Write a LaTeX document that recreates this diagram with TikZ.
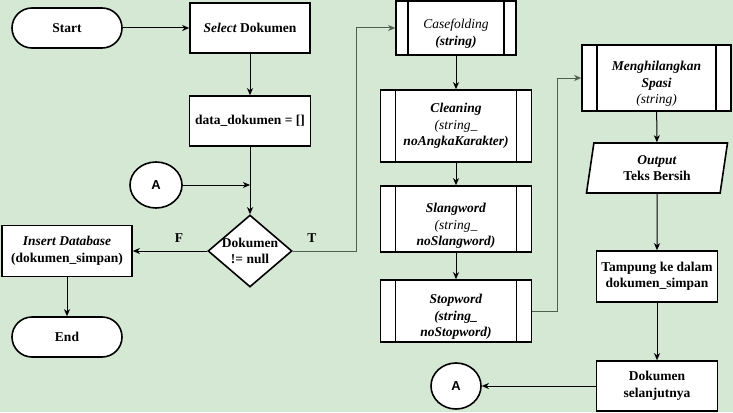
\documentclass[tikz,border=0pt]{standalone}
\usepackage{fontspec}
\setmainfont{Liberation Serif}
\newfontfamily\labelsans{Liberation Sans}
\usetikzlibrary{shapes.geometric,arrows.meta,calc}

\definecolor{bggreen}{RGB}{213,232,212}
\definecolor{linegray}{RGB}{80,96,80}

% pushes a text block a little down inside its box
\newcommand{\dropline}{\rule{0pt}{21pt}}

\tikzset{
	base/.style={draw=black, line width=1.6pt, fill=white, align=center, font=\fontsize{13.5}{16.5}\selectfont\bfseries, inner sep=1pt},
	terminal/.style={base, rounded corners=20pt, minimum width=110pt, minimum height=40pt},
	procbox/.style={base, rectangle, minimum height=50pt},
	predef/.style={base, rectangle, path picture={
		\draw[line width=1.6pt] ([xshift=#1]path picture bounding box.north west) -- ([xshift=#1]path picture bounding box.south west);
		\draw[line width=1.6pt] ([xshift=-#1]path picture bounding box.north east) -- ([xshift=-#1]path picture bounding box.south east);}},
	decision/.style={base, diamond, minimum width=84pt, minimum height=72pt, inner sep=0pt},
	connector/.style={base, ellipse, font=\fontsize{13}{15}\selectfont\labelsans\bfseries},
	iobox/.style={base, trapezium, trapezium left angle=75, trapezium right angle=105, trapezium stretches body, minimum width=141pt, minimum height=50pt},
	flow/.style={line width=1pt, -{Stealth[length=7pt,width=6pt,inset=2pt]}},
	branch/.style={font=\fontsize{13.5}{16}\selectfont\bfseries, text=black},
}

\begin{document}
\begin{tikzpicture}[x=1pt, y=-1pt]
	\fill[bggreen] (0,0) rectangle (733,412);
	\useasboundingbox (0,0) rectangle (733,412);

	% left column
	\node[terminal] (start) at (67,28) {Start};
	\node[procbox, minimum width=120pt] (select) at (250,28) {\textit{Select} Dokumen};
	\node[procbox, minimum width=121pt] (data) at (250,121) {data\_dokumen = []};
	\node[connector, minimum width=52pt, minimum height=46pt] (connA) at (156,185) {A};
	\node[decision] (cek) at (250,251) {\makebox[0pt]{Dokumen}\\\makebox[0pt]{!= null}};
	\node[procbox, minimum width=130pt, minimum height=51pt] (insert) at (67,251) {\textit{Insert Database}\\(dokumen\_simpan)};
	\node[terminal] (end) at (67,337) {End};

	\coordinate (joinA) at (data.south |- connA);
	\coordinate (tbend) at (356,251);

	\draw[flow] (start) -- (select);
	\draw[flow] (select) -- (data);
	\draw[flow] (data) -- (cek);
	\draw[flow] (connA) -- (joinA);
	\draw[flow] (cek) -- node[pos=0.38, above=5pt, branch] {F} (insert);
	\draw[flow] (insert) -- (end);

	% preprocessing column
	\node[predef=12pt, minimum width=120pt, minimum height=54pt] (casefold) at (456,28) {\dropline\mdseries\textit{Casefolding}\\\textit{(string)}};
	\node[predef=15pt, minimum width=151pt, minimum height=72pt] (cleaning) at (456,126) {\textit{Cleaning}\\\mdseries\textit{(string\_}\\\textit{noAngkaKarakter)}};
	\node[predef=15pt, minimum width=151pt, minimum height=66pt] (slang) at (456,219) {\rule{0pt}{23pt}\textit{Slangword}\\\mdseries\textit{(string\_}\\\textit{noSlangword)}};
	\node[predef=15pt, minimum width=151pt, minimum height=62pt] (stop) at (456,311) {\dropline\textit{Stopword}\\\textit{(string\_}\\\textit{noStopword)}};

	\draw[flow, linegray] (cek.east) -- node[pos=0.3, above=5pt, branch] {T} (tbend) |- (casefold.west);
	\draw[flow] (casefold) -- (cleaning);
	\draw[flow] (cleaning) -- (slang);
	\draw[flow] (slang) -- (stop);

	% right column
	\node[predef=15pt, minimum width=149pt, minimum height=66pt] (spasi) at (656.5,78) {\dropline\textit{Menghilangkan}\\\textit{Spasi}\\\mdseries\textit{(string)}};
	\node[iobox] (output) at (657,168) {\textit{Output}\\Teks Bersih};
	\node[procbox, minimum width=121pt, minimum height=51pt] (tampung) at (657,276.5) {Tampung ke dalam\\dokumen\_simpan};
	\node[procbox, minimum width=121pt] (next) at (657,386) {Dokumen\\selanjutnya};
	\node[connector, minimum width=50pt, minimum height=46pt] (connB) at (456,386) {A};

	\coordinate (sbend) at (557,311);

	\draw[flow, linegray] (stop.east) -- (sbend) |- (spasi.west);
	\draw[flow] (spasi) -- (output);
	\draw[flow] (output) -- (tampung);
	\draw[flow] (tampung) -- (next);
	\draw[flow] (next) -- (connB);

\end{tikzpicture}
\end{document}
